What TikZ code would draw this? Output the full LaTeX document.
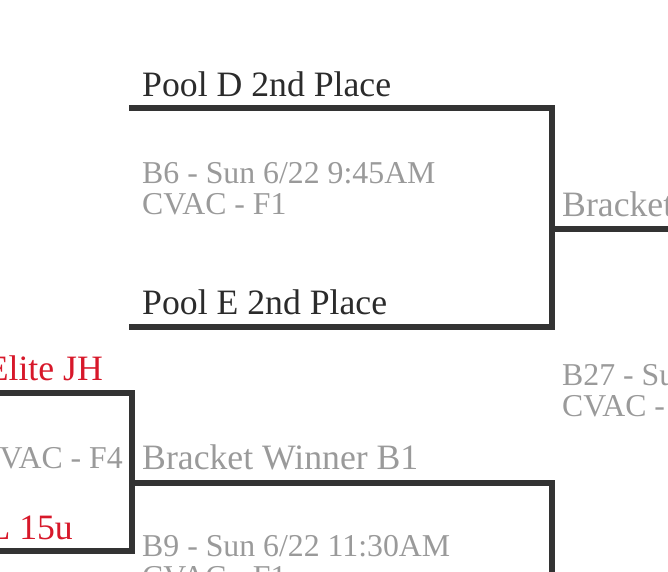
\documentclass[tikz,border=0pt]{standalone}
\usepackage{fontspec}
\setmainfont{Liberation Serif}
\usetikzlibrary{positioning}
\definecolor{cLine}{HTML}{333333}
\definecolor{cTeam}{HTML}{2B2B2B}
\definecolor{cInfo}{HTML}{9A9A9A}
\definecolor{cSeed}{HTML}{D7182A}
\tikzset{
  bline/.style={draw=cLine,line width=6pt,line join=miter},
  team/.style={inner sep=0pt,anchor=base west,text=cTeam,font=\fontsize{35.7}{36}\selectfont},
  seed/.style={team,anchor=base east,text=cSeed},
  winner/.style={team,text=cInfo},
  info/.style={inner sep=0pt,anchor=base west,text=cInfo,align=left,
               font=\fontsize{31.8}{31}\selectfont}
}

\begin{document}
\begin{tikzpicture}[x=1pt,y=-1pt]
  \useasboundingbox (0,0) rectangle (668,571);
  \clip (0,0) rectangle (668,571);

  % Top: match B6 (info nodes sit on their last baseline).
  \node[team] (poolD) at (142,96) {Pool D 2nd Place};
  \node[info] (b6) at (142,214) {B6 - Sun 6/22 9:45AM\\CVAC - F1};
  \node[team] (poolE) at (142,314) {Pool E 2nd Place};
  \coordinate (b6top) at (129,108);
  \coordinate (b6bot) at (129,327);
  \coordinate (b6out) at (552,228.5);
  \coordinate (b6end) at (680,228.5);
  \draw[bline] (b6top) -| (b6out) |- (b6bot);
  \draw[bline] (b6out) -- (b6end);

  % Right: next round.
  \node[winner] (b6win) at (562,216) {Bracket};
  \node[info] (b27) at (562,416) {B27 - Su\\CVAC -};

  % Left: match B1.
  \node[seed] (elite) at (103,380) {Elite JH};
  \node[info,anchor=base east] (b1) at (123,468) {CVAC - F4};
  \node[seed] (u15) at (73,539) {L 15u};
  \coordinate (b1top) at (-10,393);
  \coordinate (b1bot) at (-10,551);
  \coordinate (b1out) at (132,483);
  \draw[bline] (b1top) -| (b1out) |- (b1bot);

  % Bottom: match B9.
  \node[winner] (b1win) at (142,469) {Bracket Winner B1};
  \node[info] (b9) at (142,587) {B9 - Sun 6/22 11:30AM\\CVAC - F1};
  \coordinate (b9down) at (552,600);
  \draw[bline] (b1out) -| (b9down);
\end{tikzpicture}
\end{document}
